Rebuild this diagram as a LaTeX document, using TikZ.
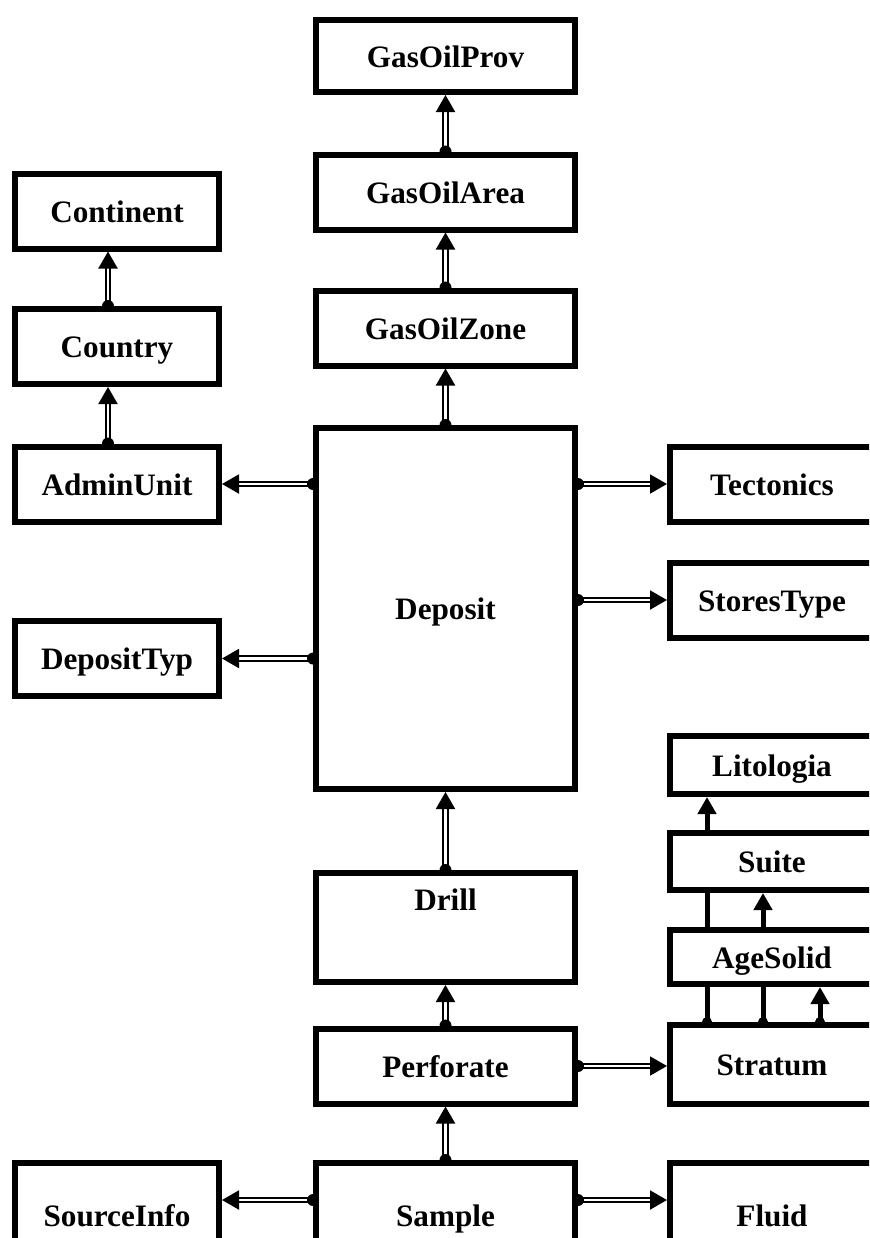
\documentclass[tikz,border=0pt]{standalone}
\usepackage{fontspec}
\setmainfont{Liberation Serif}
\usetikzlibrary{arrows.meta,backgrounds}

\begin{document}
\begin{tikzpicture}[x=0.5pt, y=-0.5pt]
  \tikzset{box/.style={draw, line width=3pt, fill=white, inner sep=0pt,
             font=\fontsize{15.6}{18}\selectfont\bfseries, minimum height=37.5pt,
             text height=12.5pt, text depth=1.5pt},
           L/.style={box, minimum width=102pt}, M/.style={box, minimum width=129.5pt},
           link/.style={double, line width=1pt, double distance=1.2pt,
             -{Triangle[length=8.5pt, width=9.5pt]}},
           up/.style={line width=2.5pt, -{Triangle[length=8.5pt, width=9pt]}}}
  \path[use as bounding box] (0,0) rectangle (869,1238);
  \clip (0,0) rectangle (869,1238);
  % middle column
  \node[M, minimum height=36pt] (prov) at (445.5,56) {GasOilProv};
  \node[M] (area) at (445.5,192) {GasOilArea};
  \node[M] (zone) at (445.5,328) {GasOilZone};
  \node[M, minimum height=180.5pt] (dep) at (445.5,608.5) {Deposit};
  \node[M, minimum height=54.5pt, text depth=29.5pt] (drill) at (445.5,927.5) {Drill};
  \node[M] (perf) at (445.5,1066) {Perforate};
  \node[M, minimum height=52pt] (samp) at (445.5,1215) {Sample};
  % left column
  \node[L] (cont) at (117,211) {Continent};
  \node[L] (ctry) at (117,346.5) {Country};
  \node[L] (adm) at (117,484) {AdminUnit};
  \node[L] (dtyp) at (117,658.5) {DepositTyp};
  \node[L, minimum height=52pt] (src) at (117,1215) {SourceInfo};
  % right column
  \node[L] (tect) at (772,484) {Tectonics};
  \node[L] (stor) at (772,600) {StoresType};
  \node[L, minimum height=29pt] (lito) at (772,765) {Litologia};
  \node[L, minimum height=28.5pt] (suite) at (772,861.5) {Suite};
  \node[L, minimum height=27pt] (age) at (772,957) {AgeSolid};
  \node[L, minimum height=39.5pt] (strat) at (772,1064.5) {Stratum};
  \node[L, minimum height=52pt] (fluid) at (772,1215) {Fluid};
  % links
  \begin{scope}[on background layer]
    \foreach \a/\b in {area/prov, zone/area, dep/zone, drill/dep, perf/drill, samp/perf} {
      \draw[link] (\a.north) -- (\b.south);
      \fill (\a.north) circle (3pt);
    }
    \foreach \a/\b in {ctry/cont, adm/ctry} {
      \draw[link] ([xshift=-4.5pt]\a.north) -- ([xshift=-4.5pt]\b.south);
      \fill ([xshift=-4.5pt]\a.north) circle (3pt);
    }
    \foreach \b in {adm, dtyp} {
      \draw[link] (dep.west |- \b) -- (\b.east);
      \fill (dep.west |- \b) circle (3pt);
    }
    \foreach \b in {tect, stor} {
      \draw[link] (dep.east |- \b) -- (\b.west);
      \fill (dep.east |- \b) circle (3pt);
    }
    \draw[link] (perf.east) -- (strat.west |- perf.east);
    \fill (perf.east) circle (3pt);
    \draw[link] ([yshift=7.5pt]samp.west) -- ([yshift=7.5pt]src.east);
    \fill ([yshift=7.5pt]samp.west) circle (3pt);
    \draw[link] ([yshift=7.5pt]samp.east) -- ([yshift=7.5pt]fluid.west);
    \fill ([yshift=7.5pt]samp.east) circle (3pt);
    % stratum links
    \foreach \dx/\b in {-32.5/lito, -4.5/suite, 24/age} {
      \draw[up] ([xshift=\dx pt]strat.north) -- ([xshift=\dx pt]\b.south);
      \fill ([xshift=\dx pt]strat.north) circle (2.5pt);
    }
  \end{scope}
\end{tikzpicture}
\end{document}
